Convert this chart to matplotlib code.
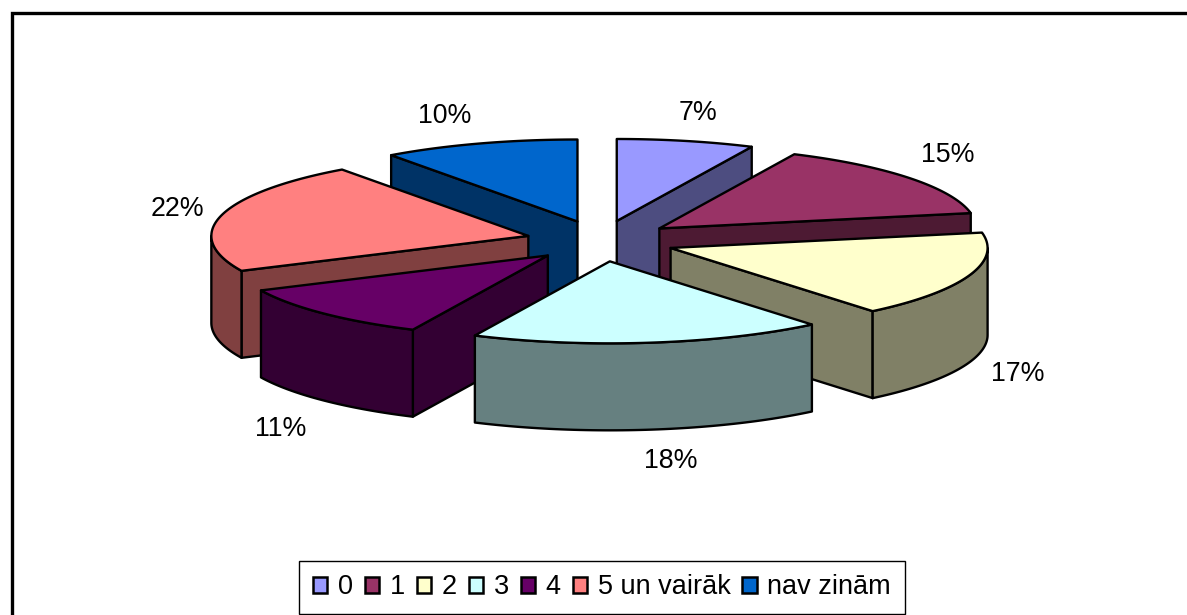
import numpy as np
import matplotlib
matplotlib.use("Agg")
import matplotlib.pyplot as plt
from matplotlib.colors import to_rgb
from matplotlib.patches import Patch, Polygon

plt.rcParams['font.family'] = ['Liberation Sans', 'DejaVu Sans']

categories = ['0', '1', '2', '3', '4', '5 un vairāk', 'nav zinām']
values = [7, 15, 17, 18, 11, 22, 10]
colors = ['#9999FF', '#993366', '#FFFFCC', '#CCFFFF', '#660066', '#FF8080', '#0066CC']

CX, CY = 600.5, 241      # pie centre (px)
RX, RY = 317, 82         # ellipse radii
DEPTH = 87               # extrusion height
EXPLODE = 0.235
LBL_X, LBL_Y = 372, 111  # label ellipse
LABEL_NUDGE = [(0, 0), (-6, -5), (-3, 1), (14, 3), (-4, 8), (9, 1), (-18, 0)]
DRAW_ORDER = [0, 6, 1, 5, 2, 4, 3]
EDGE = dict(edgecolor='black', linewidth=1.7, joinstyle='round')

fig = plt.figure(figsize=(11.87, 6.15), dpi=100)
ax = fig.add_axes([0, 0, 1, 1])
ax.set_xlim(0, 1187)
ax.set_ylim(615, 0)
ax.axis('off')

# chart border (runs off the right and bottom of the image)
ax.plot([12, 12, 1200], [630, 12.5, 12.5], color='black', lw=2.4, solid_joinstyle='miter')

fracs = np.array(values, dtype=float) / sum(values)
edges = np.concatenate([[0], np.cumsum(fracs)]) * 360


def on_rim(ox, oy, deg, dy=0):
    t = np.radians(deg)
    return np.column_stack([ox + RX * np.sin(t), oy - RY * np.cos(t) + dy])


for i in DRAW_ORDER:
    a0, a1 = edges[i], edges[i + 1]
    mid = np.radians((a0 + a1) / 2)
    ox = CX + EXPLODE * RX * np.sin(mid)
    oy = CY - 0.25 * RY * np.cos(mid)
    base = to_rgb(colors[i])
    dark = tuple(c * 0.5 for c in base)
    apex = np.array([[ox, oy]])

    # visible radial walls
    for ang, visible in ((a0, np.sin(np.radians(a0)) < 0), (a1, np.sin(np.radians(a1)) > 0)):
        if visible:
            p = on_rim(ox, oy, ang)
            wall = np.vstack([apex, p, p + [0, DEPTH], apex + [0, DEPTH]])
            ax.add_patch(Polygon(wall, closed=True, facecolor=dark, zorder=2 + DRAW_ORDER.index(i), **EDGE))

    # visible outer wall
    lo, hi = max(a0, 90), min(a1, 270)
    if hi > lo:
        th = np.linspace(lo, hi, 60)
        top = on_rim(ox, oy, th)
        wall = np.vstack([top, top[::-1] + [0, DEPTH]])
        ax.add_patch(Polygon(wall, closed=True, facecolor=dark, zorder=2 + DRAW_ORDER.index(i), **EDGE))

    # top face
    th = np.linspace(a0, a1, 80)
    face = np.vstack([apex, on_rim(ox, oy, th)])
    ax.add_patch(Polygon(face, closed=True, facecolor=base, zorder=2.5 + DRAW_ORDER.index(i), **EDGE))

    # percent label
    nx, ny = LABEL_NUDGE[i]
    lx = ox + LBL_X * np.sin(mid) + nx
    ly = oy - LBL_Y * np.cos(mid) + (DEPTH if np.cos(mid) < 0 else 0) + ny
    ax.text(lx, ly, f'{values[i]}%', ha='center', va='center', fontsize=19.3, color='black', zorder=20)

handles = [Patch(facecolor=c, edgecolor='black', linewidth=1.8) for c in colors]
leg = ax.legend(handles, categories, ncol=7, loc='center', bbox_to_anchor=(602, 587.5),
                bbox_transform=ax.transData, fontsize=19.5, frameon=True, fancybox=False,
                edgecolor='black', framealpha=1, handlelength=0.52, handleheight=0.52,
                handletextpad=0.4, columnspacing=0.44, borderpad=0.5, borderaxespad=0)
leg.get_frame().set_linewidth(1.0)
leg.set_zorder(30)

fig.savefig('out.png', dpi=100, facecolor='white')
